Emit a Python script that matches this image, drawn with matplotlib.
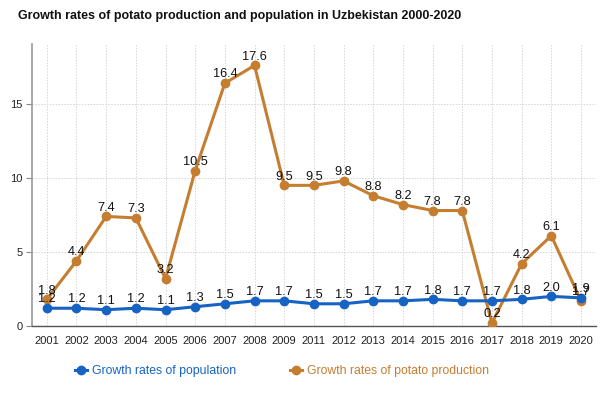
import matplotlib
matplotlib.use("Agg")
import matplotlib.pyplot as plt
from matplotlib.lines import Line2D

plt.rcParams['font.family'] = ['Liberation Sans', 'DejaVu Sans']

years = ["2001", "2002", "2003", "2004", "2005", "2006", "2007", "2008", "2009", "2011",
         "2012", "2013", "2014", "2015", "2016", "2017", "2018", "2019", "2020"]
population = [1.2, 1.2, 1.1, 1.2, 1.1, 1.3, 1.5, 1.7, 1.7, 1.5,
              1.5, 1.7, 1.7, 1.8, 1.7, 1.7, 1.8, 2.0, 1.9]
potato = [1.8, 4.4, 7.4, 7.3, 3.2, 10.5, 16.4, 17.6, 9.5, 9.5,
          9.8, 8.8, 8.2, 7.8, 7.8, 0.2, 4.2, 6.1, 1.7]
yticks = [0, 5, 10, 15]

blue = "#1663c4"
orange = "#c57d30"

fig = plt.figure(figsize=(6, 3.93), dpi=100)
ax = fig.add_axes([0.0533, 0.1705, 0.9397, 0.7176])

x = list(range(len(years)))
ax.plot(x, potato, color=orange, lw=2.2, marker='o', ms=6, zorder=3)
ax.plot(x, population, color=blue, lw=2.2, marker='o', ms=6, zorder=4)

for xi, v in zip(x, potato):
    ax.annotate(f"{v:.1f}", (xi, v), xytext=(0, 2), textcoords='offset points',
                ha='center', va='bottom', fontsize=9.2, color='#111111', zorder=5)
for xi, v in zip(x, population):
    ax.annotate(f"{v:.1f}", (xi, v), xytext=(0, 2), textcoords='offset points',
                ha='center', va='bottom', fontsize=9.2, color='#111111', zorder=5)

ax.set_xlim(-0.5, 18.5)
ax.set_ylim(0, 19.05)
ax.set_xticks(x)
ax.set_xticklabels(years)
ax.set_yticks(yticks)
ax.tick_params(axis='x', length=0, labelsize=8, pad=7, colors='#222222')
ax.tick_params(axis='y', length=4, labelsize=8, pad=3, colors='#222222', color='#888888')
for lab in ax.get_yticklabels():
    lab.set_color('#222222')

ax.grid(True, color='#d4d4d4', linestyle=(0, (1.5, 1.5)), lw=0.7)
ax.set_axisbelow(True)
for s in ['top', 'right']:
    ax.spines[s].set_visible(False)
ax.spines['left'].set_color('#999999')
ax.spines['left'].set_linewidth(1.2)
ax.spines['bottom'].set_color('#555555')
ax.spines['bottom'].set_linewidth(1.0)

fig.text(0.03, 0.96, "Growth rates of potato production and population in Uzbekistan 2000-2020",
         fontsize=9.0, fontweight='bold', ha='left', va='center', color='#111111')

h1 = Line2D([], [], color=blue, lw=2.2, marker='o', ms=6)
h2 = Line2D([], [], color=orange, lw=2.2, marker='o', ms=6)
leg = fig.legend([h1, h2], ["Growth rates of population", "Growth rates of potato production"],
                 loc='center', bbox_to_anchor=(0.47, 0.055), ncol=2, frameon=False,
                 fontsize=8.8, handlelength=1.0, handletextpad=0.4, columnspacing=4.35)
for t, c in zip(leg.get_texts(), [blue, orange]):
    t.set_color(c)

fig.savefig("out.png", dpi=100)
